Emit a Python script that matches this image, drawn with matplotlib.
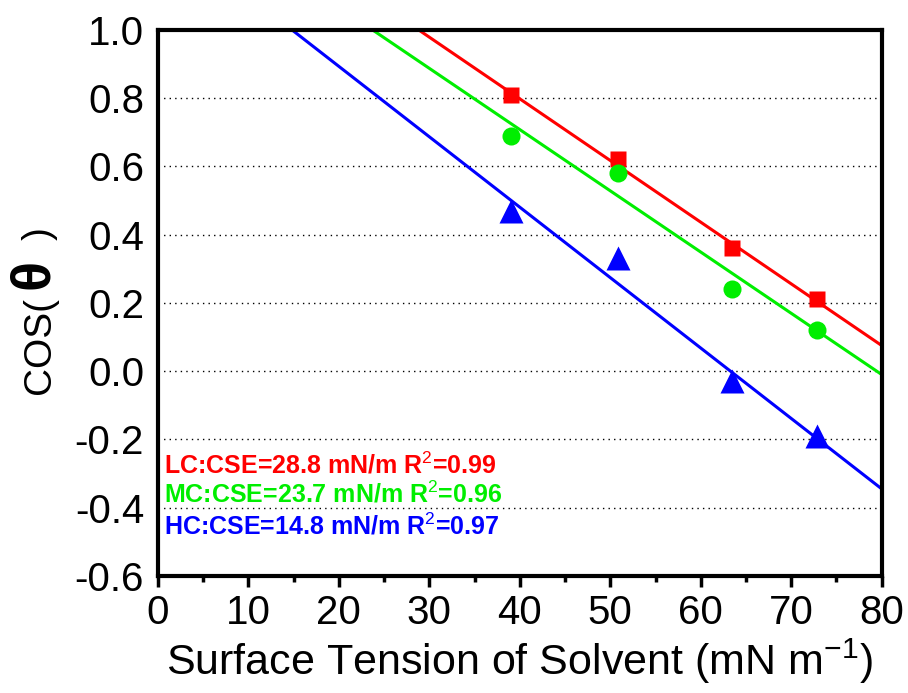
import numpy as np
import matplotlib.pyplot as plt

plt.rcParams['font.family'] = ['Liberation Sans', 'DejaVu Sans']
plt.rcParams['mathtext.fontset'] = 'custom'
plt.rcParams['mathtext.rm'] = 'Liberation Sans'
plt.rcParams['mathtext.bf'] = 'Liberation Sans:bold'

# surface tension of the test liquids (mN/m)
tension = [39.0, 50.8, 63.4, 72.8]

# measured cos(theta)
lc_cos = [0.81, 0.62, 0.36, 0.21]
mc_cos = [0.69, 0.58, 0.24, 0.12]
hc_cos = [0.47, 0.33, -0.03, -0.19]

# fitted lines: critical surface energy (cos=1) and value at x=80
cse = [28.8, 23.7, 14.8]
end_cos = [0.075, -0.01, -0.345]
labels = ['LC:CSE=28.8 mN/m R$^2$=0.99',
          'MC:CSE=23.7 mN/m R$^2$=0.96',
          'HC:CSE=14.8 mN/m R$^2$=0.97']
colors = ['#ff0000', '#00ee00', '#0000ff']

fig = plt.figure(figsize=(9.08, 6.93), dpi=100)
ax = fig.add_axes([0.174, 0.169, 0.797, 0.788])

# fit lines
for c, e, col in zip(cse, end_cos, colors):
    ax.plot([c, 80], [1.0, e], '-', color=col, lw=2.2, zorder=2)

ax.plot(tension, lc_cos, 's', color=colors[0], ms=12, mec='none', zorder=3)
ax.plot(tension, mc_cos, 'o', color=colors[1], ms=13, mec='none', zorder=3)
ax.plot(tension, hc_cos, '^', color=colors[2], ms=17, mec='none', zorder=3)

# dotted horizontal grid
for yv in np.arange(-0.4, 0.81, 0.2):
    ax.axhline(yv, color='black', ls=(0, (1, 3)), lw=1.0, zorder=1)

ax.set_xlim(0, 80)
ax.set_ylim(-0.6, 1.0)
ax.set_xticks(np.arange(0, 81, 10))
ax.set_xticks(np.arange(5, 80, 10), minor=True)
ax.set_yticks(np.arange(-0.6, 1.01, 0.2))
ax.set_yticklabels(['%.1f' % v for v in np.arange(-0.6, 1.01, 0.2)])
ax.tick_params(axis='x', which='major', direction='out', length=8, width=2.5,
               labelsize=29, pad=5)
ax.tick_params(axis='x', which='minor', direction='out', length=4, width=2.5)
ax.tick_params(axis='y', length=0, labelsize=29, pad=10)
for sp in ax.spines.values():
    sp.set_linewidth(3)

ax.set_xlabel('Surface Tension of Solvent (mN m$^{-1}$)', fontsize=31, labelpad=3)

# y label built from pieces so theta can be larger and bold
fig.text(0.044, 0.502, 'COS(', rotation=90, fontsize=28, ha='center', va='center')
fig.text(0.040, 0.600, r'$\mathbf{\theta}$', rotation=90, fontsize=40,
         ha='center', va='center')
fig.text(0.044, 0.663, ')', rotation=90, fontsize=28, ha='center', va='center')

ys = [-0.275, -0.36, -0.455]
for lab, col, yy in zip(labels, colors, ys):
    ax.text(0.7, yy, lab, color=col, fontsize=18, fontweight='bold', va='center')

fig.savefig('out.png', dpi=100)
